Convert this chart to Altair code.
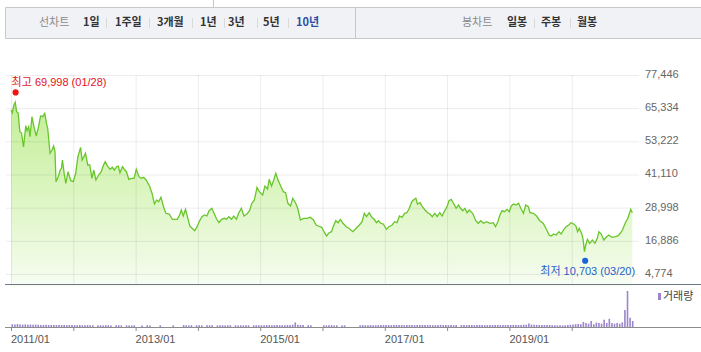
import altair as alt
import pandas as pd

# ---------------- data ----------------
# price line: decimal year, closing price (KRW)
years = [
    2011.000, 2011.021, 2011.047, 2011.068, 2011.090, 2011.115, 2011.142, 2011.169, 2011.201, 2011.237,
    2011.258, 2011.284, 2011.305, 2011.336, 2011.368, 2011.406, 2011.442, 2011.474, 2011.510, 2011.542,
    2011.569, 2011.589, 2011.627, 2011.659, 2011.684, 2011.706, 2011.722, 2011.758, 2011.790, 2011.810,
    2011.826, 2011.853, 2011.880, 2011.916, 2011.959, 2012.000, 2012.038, 2012.074, 2012.117, 2012.142,
    2012.169, 2012.196, 2012.232, 2012.264, 2012.300, 2012.327, 2012.363, 2012.406, 2012.449, 2012.485,
    2012.512, 2012.548, 2012.591, 2012.627, 2012.659, 2012.695, 2012.722, 2012.749, 2012.790, 2012.828,
    2012.853, 2012.891, 2012.932, 2012.975, 2013.011, 2013.054, 2013.090, 2013.128, 2013.169, 2013.223,
    2013.264, 2013.302, 2013.338, 2013.370, 2013.406, 2013.449, 2013.485, 2013.539, 2013.591, 2013.670,
    2013.706, 2013.733, 2013.765, 2013.801, 2013.839, 2013.870, 2013.907, 2013.949, 2013.986, 2014.028,
    2014.065, 2014.107, 2014.144, 2014.180, 2014.223, 2014.259, 2014.302, 2014.338, 2014.381, 2014.423,
    2014.460, 2014.496, 2014.539, 2014.575, 2014.618, 2014.654, 2014.697, 2014.739, 2014.787, 2014.828,
    2014.866, 2014.907, 2014.949, 2014.986, 2015.039, 2015.076, 2015.118, 2015.144, 2015.182, 2015.213,
    2015.250, 2015.286, 2015.329, 2015.371, 2015.408, 2015.444, 2015.487, 2015.523, 2015.566, 2015.602,
    2015.645, 2015.697, 2015.750, 2015.803, 2015.855, 2015.897, 2015.934, 2015.987, 2016.024, 2016.066,
    2016.107, 2016.145, 2016.171, 2016.213, 2016.250, 2016.288, 2016.329, 2016.382, 2016.424, 2016.487,
    2016.540, 2016.592, 2016.635, 2016.671, 2016.708, 2016.750, 2016.793, 2016.829, 2016.866, 2016.897,
    2016.935, 2016.976, 2017.024, 2017.066, 2017.118, 2017.156, 2017.197, 2017.235, 2017.276, 2017.319,
    2017.355, 2017.393, 2017.434, 2017.472, 2017.498, 2017.524, 2017.567, 2017.603, 2017.646, 2017.687,
    2017.725, 2017.762, 2017.804, 2017.840, 2017.883, 2017.919, 2017.962, 2018.003, 2018.030, 2018.066,
    2018.109, 2018.145, 2018.183, 2018.215, 2018.251, 2018.287, 2018.319, 2018.357, 2018.409, 2018.461,
    2018.499, 2018.540, 2018.583, 2018.635, 2018.689, 2018.741, 2018.777, 2018.815, 2018.847, 2018.883,
    2018.919, 2018.962, 2018.998, 2019.030, 2019.068, 2019.104, 2019.147, 2019.183, 2019.226, 2019.262,
    2019.305, 2019.330, 2019.384, 2019.436, 2019.488, 2019.542, 2019.594, 2019.637, 2019.673, 2019.709,
    2019.752, 2019.794, 2019.831, 2019.867, 2019.910, 2019.953, 2019.989, 2020.032, 2020.068, 2020.095,
    2020.120, 2020.163, 2020.183, 2020.205, 2020.226, 2020.253, 2020.289, 2020.332, 2020.373, 2020.411,
    2020.436, 2020.474, 2020.515, 2020.553, 2020.594, 2020.648, 2020.700, 2020.742, 2020.779, 2020.815,
    2020.858, 2020.901, 2020.927, 2020.948, 2020.973,
]
prices = [
    64660, 63680, 66490, 67480, 64040, 63570, 56740, 56260, 51150, 58930,
    57100, 58570, 54910, 62220, 58570, 55170, 58570, 62470, 62220, 63460,
    59810, 57980, 48850, 50060, 51520, 49440, 38480, 40310, 42750, 43370,
    46400, 41550, 37900, 42130, 38840, 38480, 41550, 47610, 51040, 46400,
    47610, 48850, 44580, 44580, 39720, 42750, 39100, 40930, 42130, 44580,
    45780, 44210, 43010, 43740, 42750, 43960, 44210, 41770, 43960, 42750,
    42130, 39360, 39720, 39720, 43010, 40310, 39720, 40090, 39100, 36910,
    34240, 30340, 31800, 31180, 32780, 29350, 26940, 26680, 24750, 24750,
    26320, 28140, 25950, 28400, 25110, 22300, 21460, 20580, 22050, 24240,
    25700, 26320, 25950, 27890, 28770, 26940, 24750, 23510, 24750, 25110,
    24750, 25700, 24750, 25950, 24750, 26940, 28770, 25950, 26680, 27890,
    30590, 31800, 36430, 34830, 33620, 36910, 35810, 39360, 36910, 38840,
    41550, 39100, 36910, 34830, 34460, 30590, 29610, 32420, 30810, 28770,
    24490, 25110, 25110, 25480, 24490, 22670, 22300, 21830, 20220, 18650,
    19850, 20220, 22050, 24240, 23510, 24750, 23290, 22050, 21460, 20220,
    21460, 22670, 23870, 26940, 25700, 27160, 25480, 24750, 23510, 24240,
    23290, 23030, 21100, 22050, 22670, 23870, 23510, 25950, 25480, 26940,
    27160, 28770, 31180, 32050, 32420, 30340, 30810, 29350, 28140, 27160,
    26680, 25700, 26940, 25700, 27160, 25950, 27890, 29610, 31540, 32050,
    30340, 28770, 29970, 28770, 27890, 28770, 27160, 28140, 26940, 24240,
    23290, 24240, 23290, 23870, 23290, 23510, 22050, 23870, 26320, 27890,
    27520, 28400, 27520, 29610, 30340, 29970, 30590, 28770, 26940, 29970,
    29350, 27160, 26940, 25950, 24240, 23290, 21100, 19010, 18650, 19380,
    19010, 20220, 19380, 20840, 22050, 22670, 23510, 23030, 22300, 20220,
    21460, 19380, 17440, 12920, 15360, 17440, 15980, 17190, 15980, 17810,
    20220, 19380, 17190, 18170, 19010, 18170, 18390, 18650, 19640, 20840,
    23290, 25110, 26940, 28400, 27160,
]

# volume, half-month bars (relative units)
vol_2011 = [280, 250, 300, 260, 240, 260, 230, 250, 220, 240, 230, 200, 210, 230, 200, 210, 190, 200, 210, 190, 200, 180, 200, 190]
vol_2012 = [190, 180, 200, 180, 170, 190, 180, 170, 0, 180, 170, 160, 180, 170, 160, 0, 170, 180, 160, 0, 170, 160, 150, 170]
vol_2013 = [0, 0, 160, 0, 180, 160, 0, 0, 0, 170, 0, 0, 0, 0, 170, 0, 0, 0, 190, 170, 160, 180, 0, 170]
vol_2014 = [170, 160, 0, 170, 160, 170, 0, 160, 170, 180, 160, 170, 180, 0, 170, 160, 170, 160, 180, 170, 0, 170, 180, 170]
vol_2015 = [180, 170, 190, 200, 180, 190, 200, 180, 190, 180, 200, 210, 230, 450, 220, 200, 190, 0, 180, 170, 0, 0, 0, 0]
vol_2016 = [170, 160, 170, 180, 160, 170, 0, 160, 170, 0, 0, 0, 0, 0, 180, 190, 170, 180, 190, 180, 170, 190, 200, 190]
vol_2017 = [200, 190, 180, 200, 210, 190, 200, 180, 190, 200, 190, 180, 200, 190, 210, 200, 190, 200, 180, 190, 200, 210, 190, 200]
vol_2018 = [190, 200, 180, 190, 0, 200, 190, 180, 190, 200, 180, 190, 200, 190, 180, 190, 200, 190, 210, 200, 190, 200, 190, 210]
vol_2019 = [200, 210, 190, 200, 210, 220, 230, 350, 240, 220, 210, 200, 210, 200, 190, 200, 180, 170, 160, 170, 160, 170, 190, 220]
vol_2020 = [250, 280, 300, 280, 500, 400, 330, 600, 270, 450, 400, 330, 730, 400, 830, 400, 330, 400, 330, 470, 1700, 3600, 930, 600]
volumes = vol_2011 + vol_2012 + vol_2013 + vol_2014 + vol_2015 + vol_2016 + vol_2017 + vol_2018 + vol_2019 + vol_2020
vol_years = [2011 + (k + 0.5) / 24 for k in range(len(volumes))]

y_ticks = [4774, 16886, 28998, 41110, 53222, 65334, 77446]
grid_years = list(range(2011, 2021))

high_t, high_v, high_date = 2011.074, 69998, "01/28"
low_t, low_v, low_date = 2020.216, 10703, "03/20"

nav_title_left = "선차트"
nav_periods = ["1일", "1주일", "3개월", "1년", "3년", "5년", "10년"]
nav_title_right = "봉차트"
nav_candles = ["일봉", "주봉", "월봉"]
legend_label = "거래량"

# ---------------- layout ----------------
W, H = 633, 252
PRICE_H = 209
FONT = "Liberation Sans, Noto Sans CJK KR"
KFONT = "Noto Sans CJK KR"

XS = alt.Scale(domain=[2011, 2021], nice=False, zero=False)
YS = alt.Scale(domain=[-14582, 77446], nice=False, zero=False)
VS = alt.Scale(domain=[0, 25200], nice=False, zero=True)

price_df = pd.DataFrame({"t": years, "price": prices})
vol_df = pd.DataFrame({"t": vol_years, "volume": volumes})
ytick_df = pd.DataFrame({"v": y_ticks})
xgrid_df = pd.DataFrame({"t": grid_years})
high_df = pd.DataFrame({"t": [high_t], "price": [high_v], "label": [f"최고 {high_v:,} ({high_date})"]})
low_df = pd.DataFrame({"t": [low_t], "price": [low_v], "label": [f"최저 {low_v:,} ({low_date})"]})
one = pd.DataFrame({"a": [0]})

X_noaxis = alt.X("t:Q", scale=XS, axis=None)
Y_price = alt.Y("price:Q", scale=YS, axis=None)

area = alt.Chart(price_df).mark_area(
    color=alt.Gradient(
        gradient="linear",
        stops=[
            alt.GradientStop(color="#c3ee98", offset=0),
            alt.GradientStop(color="#daf5be", offset=0.45),
            alt.GradientStop(color="#eefae3", offset=0.85),
            alt.GradientStop(color="#f8fdf4", offset=1),
        ],
        x1=1, x2=1, y1=0, y2=1,
    )
).encode(x=X_noaxis, y=Y_price, y2=alt.value(PRICE_H))

hgrid = alt.Chart(ytick_df).mark_rule(color="#000", opacity=0.075, strokeWidth=1, yOffset=0.5).encode(
    y=alt.Y("v:Q", scale=YS, axis=None), x=alt.value(0), x2=alt.value(W))
vgrid = alt.Chart(xgrid_df).mark_rule(color="#000", opacity=0.075, strokeWidth=1, xOffset=0.5).encode(
    x=X_noaxis, y=alt.value(0), y2=alt.value(PRICE_H))

# right-hand price labels
ylabels = alt.Chart(ytick_df).transform_calculate(lab="format(datum.v, ',')").mark_text(
    align="left", baseline="middle", font=FONT, fontSize=11, color="#666666").encode(
    y=alt.Y("v:Q", scale=YS, axis=None), x=alt.value(W + 6), text="lab:N")

line = alt.Chart(price_df).mark_line(color="#68c62a", strokeWidth=1.3).encode(x=X_noaxis, y=Y_price)

high_pt = alt.Chart(high_df).mark_circle(color="#f01414", size=38, opacity=1, yOffset=-3).encode(x=X_noaxis, y=Y_price)
high_txt = alt.Chart(high_df).mark_text(align="left", baseline="middle", dx=-4, dy=-12, font=FONT,
                                         fontSize=11, color="#e4131b").encode(x=X_noaxis, y=Y_price, text="label:N")
low_pt = alt.Chart(low_df).mark_circle(color="#1a63d8", size=38, opacity=1, yOffset=3).encode(x=X_noaxis, y=Y_price)
low_txt = alt.Chart(low_df).mark_text(align="right", baseline="middle", dx=50, dy=14, font=FONT,
                                       fontSize=11, color="#1f5fc8").encode(x=X_noaxis, y=Y_price, text="label:N")

price_group = alt.layer(area, hgrid, vgrid, line, ylabels, high_pt, high_txt, low_pt, low_txt)

vol = alt.Chart(vol_df).mark_bar(color="#9b85cc", size=1.6).encode(
    x=X_noaxis, y=alt.Y("volume:Q", scale=VS, axis=None))

# bottom time axis (ticks every year, labels every other year)
xticks = alt.Chart(xgrid_df).mark_rule(color="#8c8c8c", strokeWidth=1, xOffset=0.5).encode(
    x=X_noaxis, y=alt.value(H), y2=alt.value(H + 4))
xlabels = alt.Chart(xgrid_df).transform_filter("datum.t % 2 == 1").transform_calculate(
    lab="datum.t + '/01'").mark_text(align="left", baseline="middle", font=FONT, fontSize=11,
                                      color="#555555").encode(x=X_noaxis, y=alt.value(H + 13), text="lab:N")


def vrule(x, y1, y2, color):
    return alt.Chart(one).mark_rule(color=color, strokeWidth=1).encode(
        x=alt.value(x), y=alt.value(y1), y2=alt.value(y2))


def hrule(y, x1, x2, color):
    return alt.Chart(one).mark_rule(color=color, strokeWidth=1).encode(
        y=alt.value(y), x=alt.value(x1), x2=alt.value(x2))


def label(txt, x, y, color, size=11, weight="bold", font=KFONT, align="left"):
    return alt.Chart(one).mark_text(align=align, baseline="middle", font=font, fontSize=size,
                                    fontWeight=weight, color=color).encode(
        x=alt.value(x), y=alt.value(y), text=alt.value(txt))


decor = [
    hrule(PRICE_H + 0.5, -1, 695, "#6f7786"),
    hrule(H + 0.5, -1, 695, "#8c8c8c"),
    alt.Chart(one).mark_rect(fill="#f1f2f6", stroke="#c8c8c8", strokeWidth=1).encode(
        x=alt.value(-0.5), x2=alt.value(700), y=alt.value(-67.5), y2=alt.value(-36.5)),
    vrule(207.5, -75, -67.5, "#c8c8c8"),
    vrule(349.5, -67.5, -36.5, "#c8c8c8"),
]

NAV_Y = -52
decor.append(label(nav_title_left, 33, NAV_Y, "#8a8a8a", weight="normal"))
period_x = [77, 109, 151, 194, 222, 257, 290]
for i, (txt, px) in enumerate(zip(nav_periods, period_x)):
    col = "#2d4fa6" if i == len(nav_periods) - 1 else "#333333"
    decor.append(label(txt, px, NAV_Y, col))
for sx in [100.5, 143.5, 186.5, 218.5, 251.5, 282.5]:
    decor.append(vrule(sx, -57, -47, "#d9d9d9"))
decor.append(label(nav_title_right, 456, NAV_Y, "#8a8a8a", weight="normal"))
for txt, px in zip(nav_candles, [501, 535, 571]):
    decor.append(label(txt, px, NAV_Y, "#333333"))
for sx in [528.5, 564.5]:
    decor.append(vrule(sx, -57, -47, "#d9d9d9"))

# volume legend
decor.append(alt.Chart(one).mark_rect(fill="#9b85cc").encode(
    x=alt.value(652), x2=alt.value(655), y=alt.value(218), y2=alt.value(225)))
decor.append(label(legend_label, 657, 222, "#444444", weight="normal"))

vol_group = alt.layer(vol, xticks, xlabels)

chart = alt.layer(price_group, vol_group, *decor).resolve_scale(y="independent").properties(
    width=W, height=H,
    autosize=alt.AutoSizeParams(type="none"),
    padding={"left": 6, "top": 75, "right": 62, "bottom": 25},
    background="white",
).configure_view(stroke=None)

chart.save("out.html", embed_options={"renderer": "svg", "actions": False})
